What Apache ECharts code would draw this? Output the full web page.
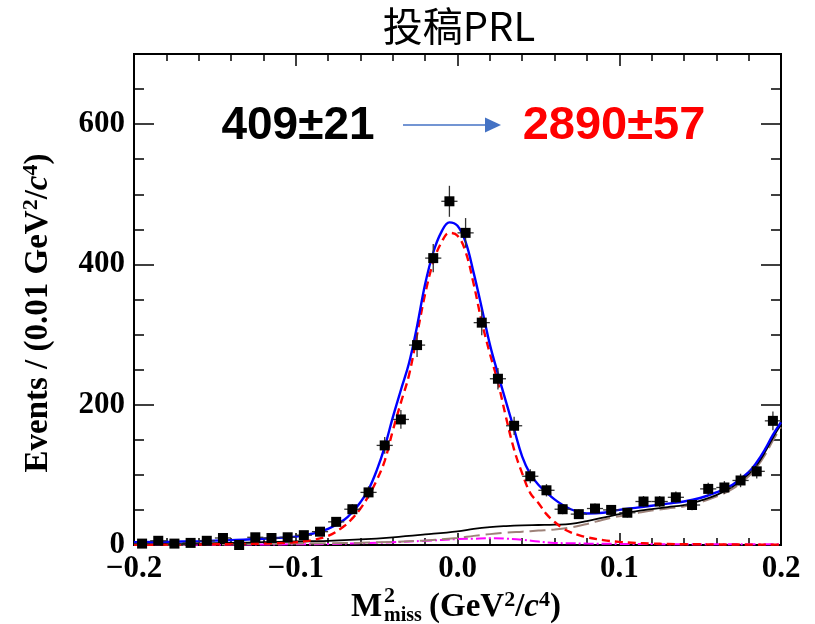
<!DOCTYPE html>
<html>
<head>
<meta charset="utf-8">
<script src="https://cdn.jsdelivr.net/npm/echarts@6/dist/echarts.min.js"></script>
<style>
  html, body { margin: 0; padding: 0; background: #fff; }
  #chart { width: 815px; height: 624px; }
</style>
</head>
<body>
<div id="chart"></div>
<script>
// Missing-mass-squared spectrum: binned events (0.01 GeV^2/c^4 bins) with fit components.
const binWidth = 0.01;
const binCenters = [-0.195, -0.185, -0.175, -0.165, -0.155, -0.145, -0.135, -0.125, -0.115, -0.105,
                    -0.095, -0.085, -0.075, -0.065, -0.055, -0.045, -0.035, -0.025, -0.015, -0.005,
                     0.005,  0.015,  0.025,  0.035,  0.045,  0.055,  0.065,  0.075,  0.085,  0.095,
                     0.105,  0.115,  0.125,  0.135,  0.145,  0.155,  0.165,  0.175,  0.185,  0.195];
const counts = [2, 6, 2, 3, 6, 10, 0, 11, 10, 11,
                14, 19, 33, 51, 75, 142, 179, 285, 409, 490,
                445, 317, 237, 170, 98, 78, 51, 44, 52, 50,
                46, 62, 62, 68, 57, 80, 82, 92, 105, 177];
const countErrors = [1.4, 2.4, 1.4, 1.7, 2.4, 3.2, 0, 3.3, 3.2, 3.3,
                     3.7, 4.4, 5.7, 7.1, 8.7, 11.9, 13.4, 16.9, 20.2, 22.1,
                     21.1, 17.8, 15.4, 13.0, 9.9, 8.8, 7.1, 6.6, 7.2, 7.1,
                     6.8, 7.9, 7.9, 8.2, 7.5, 8.9, 9.1, 9.6, 10.2, 13.3];

// Fit curves sampled along M^2_miss
const fitX = [-0.2, -0.18, -0.16, -0.14, -0.12, -0.1, -0.09, -0.08, -0.07, -0.065,
              -0.06, -0.055, -0.05, -0.045, -0.04, -0.035, -0.03, -0.025, -0.02, -0.015,
              -0.01, -0.005, 0, 0.005, 0.01, 0.015, 0.02, 0.025, 0.03, 0.035,
              0.04, 0.045, 0.05, 0.055, 0.06, 0.065, 0.07, 0.075, 0.08, 0.09,
              0.1, 0.11, 0.12, 0.13, 0.14, 0.15, 0.16, 0.17, 0.18, 0.185,
              0.19, 0.195, 0.2];
const totalFit = [4, 4.5, 5.5, 7, 9, 12, 16, 23, 36, 47,
                  61, 79, 106, 140, 182, 221, 259, 312, 372, 417,
                  446, 460, 455, 432, 388, 338, 286, 244, 204, 165,
                  126, 101, 86, 75, 65, 57, 51, 47, 45, 46,
                  50, 53, 56, 59, 62, 67, 75, 86, 104, 118,
                  136, 157, 175];
const signalFit = [0.3, 0.5, 0.8, 1.2, 2, 4, 7, 13, 27, 38,
                   52, 70, 92, 120, 163, 203, 242, 300, 358, 403,
                   431, 445, 441, 418, 372, 318, 273, 232, 182, 136,
                   102, 74, 60, 44, 33, 24, 18, 14, 11, 7,
                   4.5, 3, 2, 1.5, 1, 1, 0.8, 0.7, 0.6, 0.5,
                   0.5, 0.5, 0.5];

const bkgX = [-0.2, -0.18, -0.16, -0.14, -0.12, -0.1, -0.08, -0.06, -0.04, -0.02,
              0, 0.01, 0.02, 0.03, 0.04, 0.05, 0.06, 0.07, 0.08, 0.09,
              0.1, 0.11, 0.12, 0.13, 0.14, 0.15, 0.16, 0.17, 0.18, 0.185,
              0.19, 0.195, 0.2];
const bkgTotal = [1, 1.5, 2, 3, 4, 5, 6, 8, 11, 15,
                  19.5, 23, 25.5, 27, 28, 28.5, 29, 30, 34, 39,
                  44, 48, 51, 54, 57, 63, 71, 83, 101, 114,
                  132, 153, 172];
const bkgSmooth = [0.5, 0.7, 1, 1.3, 1.6, 2, 2.5, 3.2, 4.5, 6.5,
                   10, 13, 15.5, 17.5, 19, 20.5, 22, 25, 30, 36,
                   41, 45, 49, 52, 55, 61, 69, 80, 98, 111,
                   128, 149, 168];
const bkgPeaking = [0, 0.2, 0.4, 0.6, 0.8, 1, 1.5, 2.5, 4, 6,
                    8.5, 9, 9.5, 9, 7.5, 5, 3, 2.5, 2, 1.8,
                    1.5, 1.4, 1.3, 1.2, 1.2, 1.2, 1.1, 1.1, 1, 1,
                    1, 1, 1];

const xTickLabels = ['\u22120.2', '\u22120.1', '0.0', '0.1', '0.2'];
const yTickLabels = ['0', '200', '400', '600'];

const pair = (xs, ys) => xs.map((x, i) => [x, ys[i]]);
const serif = 'Liberation Serif';

const chart = echarts.init(document.getElementById('chart'), null, { renderer: 'canvas' });

function axisBase(extra) {
  return Object.assign({
    type: 'value',
    splitLine: { show: false },
    axisLine: { show: true, onZero: false, lineStyle: { color: '#000', width: 2 } },
    axisTick: { show: true, inside: true, lineStyle: { color: '#000', width: 1.5 } },
    axisLabel: { show: false }
  }, extra);
}

const xCommon = { min: -0.2, max: 0.2 };
const yCommon = { min: 0, max: 700 };

const supStyle = { fontSize: 22, fontWeight: 'bold', fontFamily: serif, padding: [0, 0, 13, 0] };
const itStyle = { fontSize: 33, fontStyle: 'italic', fontWeight: 'bold', fontFamily: serif };

const option = {
  animation: false,
  backgroundColor: '#fff',
  grid: { left: 134, right: 34, top: 54, bottom: 79, containLabel: false },
  xAxis: [
    axisBase(Object.assign({}, xCommon, {
      position: 'bottom', interval: 0.1,
      axisTick: { show: true, inside: true, length: 12, lineStyle: { color: '#000', width: 1.5 } },
      axisLabel: {
        show: true, margin: 8, color: '#000',
        fontFamily: serif, fontWeight: 'bold', fontSize: 31,
        formatter: v => {
          const i = Math.round((v + 0.2) / 0.1);
          return xTickLabels[i] !== undefined ? xTickLabels[i] : '';
        }
      }
    })),
    axisBase(Object.assign({}, xCommon, {
      position: 'bottom', interval: 0.02,
      axisTick: { show: true, inside: true, length: 7, lineStyle: { color: '#000', width: 1.5 } }
    })),
    axisBase(Object.assign({}, xCommon, {
      position: 'top', interval: 0.1,
      axisTick: { show: true, inside: true, length: 12, lineStyle: { color: '#000', width: 1.5 } }
    })),
    axisBase(Object.assign({}, xCommon, {
      position: 'top', interval: 0.02,
      axisTick: { show: true, inside: true, length: 7, lineStyle: { color: '#000', width: 1.5 } }
    }))
  ],
  yAxis: [
    axisBase(Object.assign({}, yCommon, {
      position: 'left', interval: 200,
      axisTick: { show: true, inside: true, length: 20, lineStyle: { color: '#000', width: 1.5 } },
      axisLabel: {
        show: true, margin: 9, color: '#000',
        fontFamily: serif, fontWeight: 'bold', fontSize: 31,
        formatter: v => {
          const i = Math.round(v / 200);
          return (v % 200 === 0 && yTickLabels[i] !== undefined) ? yTickLabels[i] : '';
        }
      }
    })),
    axisBase(Object.assign({}, yCommon, {
      position: 'left', interval: 50,
      axisTick: { show: true, inside: true, length: 10, lineStyle: { color: '#000', width: 1.5 } }
    })),
    axisBase(Object.assign({}, yCommon, {
      position: 'right', interval: 200,
      axisTick: { show: true, inside: true, length: 20, lineStyle: { color: '#000', width: 1.5 } }
    })),
    axisBase(Object.assign({}, yCommon, {
      position: 'right', interval: 50,
      axisTick: { show: true, inside: true, length: 10, lineStyle: { color: '#000', width: 1.5 } }
    }))
  ],
  series: [
    {
      name: 'peaking bkg', type: 'line', data: pair(bkgX, bkgPeaking),
      smooth: 0.4, showSymbol: false, z: 3,
      lineStyle: { color: '#FF00FF', width: 2, type: [10, 3, 2, 3] }
    },
    {
      name: 'smooth bkg', type: 'line', data: pair(bkgX, bkgSmooth),
      smooth: 0.4, showSymbol: false, z: 3,
      lineStyle: { color: '#9E8279', width: 2, type: [16, 6] }
    },
    {
      name: 'total bkg', type: 'line', data: pair(bkgX, bkgTotal),
      smooth: 0.4, showSymbol: false, z: 4,
      lineStyle: { color: '#000', width: 1.8 }
    },
    {
      name: 'signal', type: 'line', data: pair(fitX, signalFit),
      smooth: 0.4, showSymbol: false, z: 5,
      lineStyle: { color: '#FF0000', width: 2.4, type: [8, 5] }
    },
    {
      name: 'total fit', type: 'line', data: pair(fitX, totalFit),
      smooth: 0.4, showSymbol: false, z: 6,
      lineStyle: { color: '#0000FF', width: 2.4 }
    },
    {
      name: 'errors', type: 'custom', z: 7, clip: true,
      data: binCenters.map((x, i) => [x, counts[i], countErrors[i]]),
      renderItem: (params, api) => {
        const x = api.value(0), y = api.value(1), e = api.value(2);
        const t = api.coord([x, y + e]);
        const b = api.coord([x, Math.max(0, y - e)]);
        const l = api.coord([x - binWidth / 2, y]);
        const r = api.coord([x + binWidth / 2, y]);
        const st = { stroke: '#333', lineWidth: 1.3 };
        return {
          type: 'group',
          children: [
            { type: 'line', shape: { x1: t[0], y1: t[1], x2: b[0], y2: b[1] }, style: st },
            { type: 'line', shape: { x1: l[0], y1: l[1], x2: r[0], y2: r[1] }, style: st }
          ]
        };
      }
    },
    {
      name: 'data', type: 'scatter', z: 8, clip: false,
      data: pair(binCenters, counts),
      symbol: 'rect', symbolSize: 10,
      itemStyle: { color: '#000', opacity: 1 }
    }
  ],
  graphic: [
    {
      type: 'text', x: 459, y: 26, z: 20,
      style: {
        text: '投稿PRL', font: '40px "Noto Sans CJK SC"', fill: '#000',
        textAlign: 'center', textVerticalAlign: 'middle'
      }
    },
    {
      type: 'text', x: 298, y: 126, z: 20,
      style: {
        text: '409±21', font: 'bold 46px "Liberation Sans"', fill: '#000',
        textAlign: 'center', textVerticalAlign: 'middle'
      }
    },
    {
      type: 'text', x: 614, y: 126, z: 20,
      style: {
        text: '2890±57', font: 'bold 47px "Liberation Sans"', fill: '#FF0000',
        textAlign: 'center', textVerticalAlign: 'middle'
      }
    },
    {
      type: 'line', z: 20,
      shape: { x1: 403, y1: 125, x2: 487, y2: 125 },
      style: { stroke: '#4472C4', lineWidth: 1.5 }
    },
    {
      type: 'polygon', z: 20,
      shape: { points: [[485, 117.5], [501, 125], [485, 132.5]] },
      style: { fill: '#4472C4' }
    },
    {
      type: 'text', x: 38, y: 313, rotation: Math.PI / 2, z: 20,
      style: {
        text: 'Events / (0.01 GeV{sup|2}/{it|c}{sup|4})',
        font: 'bold 33px "Liberation Serif"', fill: '#000',
        textAlign: 'center', textVerticalAlign: 'middle',
        rich: { sup: supStyle, it: itStyle }
      }
    },
    {
      type: 'text', x: 351, y: 607, z: 20,
      style: {
        text: 'M', font: 'bold 33px "Liberation Serif"', fill: '#000',
        textAlign: 'left', textVerticalAlign: 'middle'
      }
    },
    {
      type: 'text', x: 384, y: 596, z: 20,
      style: {
        text: '2', font: 'bold 22px "Liberation Serif"', fill: '#000',
        textAlign: 'left', textVerticalAlign: 'middle'
      }
    },
    {
      type: 'text', x: 384, y: 616, z: 20,
      style: {
        text: 'miss', font: 'bold 20px "Liberation Serif"', fill: '#000',
        textAlign: 'left', textVerticalAlign: 'middle'
      }
    },
    {
      type: 'text', x: 429, y: 607, z: 20,
      style: {
        text: '(GeV{sup|2}/{it|c}{sup|4})',
        font: 'bold 33px "Liberation Serif"', fill: '#000',
        textAlign: 'left', textVerticalAlign: 'middle',
        rich: { sup: supStyle, it: itStyle }
      }
    }
  ]
};

chart.setOption(option);
</script>
</body>
</html>
